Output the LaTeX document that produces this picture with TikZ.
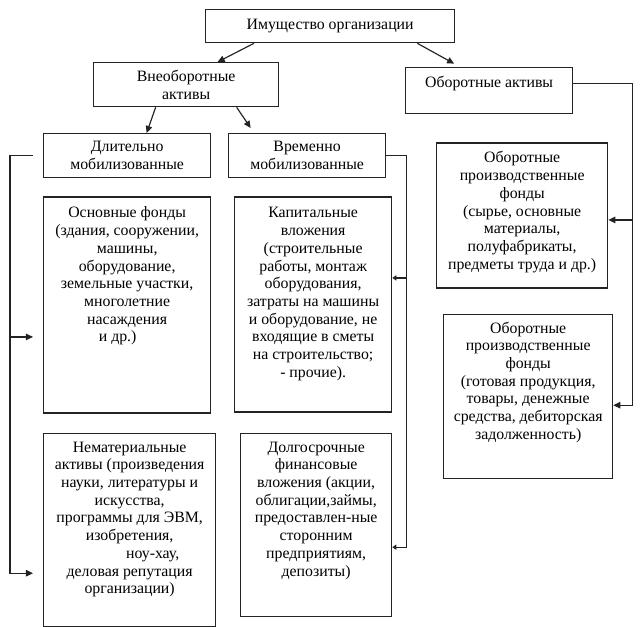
\documentclass[tikz,border=0pt]{standalone}
\usepackage{fontspec}
\setmainfont{Liberation Serif}
\usetikzlibrary{arrows.meta, positioning}
\definecolor{schemeLine}{RGB}{35,35,35}
% width, total height, first baseline, text
\newcommand{\cellbox}[4]{\parbox[t][#2][t]{#1}{\centering\rule{0pt}{#3}#4}}

\begin{document}
\begin{tikzpicture}[
    x=0.3mm, y=-0.3mm,
    box/.style={draw=schemeLine, line width=1.1pt, inner sep=0.9mm, align=center, font=\fontsize{13.5}{15.1}\selectfont, anchor=north west},
    arrow/.style={-{Triangle[length=6pt, width=5.5pt]}, line width=1pt, draw=schemeLine},
    tick/.style={-{Triangle[length=3.5pt, width=4.5pt]}, line width=1pt, draw=schemeLine}
]
    \useasboundingbox (0,0) rectangle (642,627);

    \node[box, minimum width=74.7mm, minimum height=9.9mm] (imush) at (205,9) {Имущество организации};
    \node[box, minimum width=55.5mm, minimum height=13.2mm] (vneob) at (93,62) {Внеоборотные\\активы};
    \node[box] (obor) at (405,67) {\cellbox{48.3mm}{12mm}{5.1mm}{Оборотные активы}};
    \node[box, minimum width=50.1mm, minimum height=13.2mm] (dlit) at (43,133) {Длительно\\мобилизованные};
    \node[box, minimum width=47.1mm, minimum height=13.2mm] (vrem) at (228,133) {Временно\\мобилизованные};

    \node[box, below=5.4mm of dlit.south west, anchor=north west] (osn)
        {\cellbox{48.3mm}{63mm}{5.4mm}{Основные фонды\\(здания, сооружении,\\машины,\\оборудование,\\земельные участки,\\многолетние\\насаждения\\и др.)\hspace*{5.7mm}}};
    \node[box, below=5.4mm of vrem.south west, anchor=north west, xshift=1.8mm] (kap)
        {\cellbox{45.3mm}{62.7mm}{5.4mm}{Капитальные\\вложения\\(строительные\\работы, монтаж\\оборудования,\\затраты на машины\\и оборудование, не\\входящие в сметы\\на строительство;\\- прочие).}};
    \node[box, below=5.7mm of osn.south west, anchor=north west] (nemat)
        {\cellbox{49.8mm}{56.1mm}{4.8mm}{Нематериальные\\активы (произведения\\науки, литературы и\\искусства,\\программы для ЭВМ,\\изобретения,\\\hspace*{13.8mm}ноу-хау,\\деловая репутация\\организации)}};
    \node[box, below=6mm of kap.south west, anchor=north west, xshift=1.8mm] (dolg)
        {\cellbox{43.5mm}{53.1mm}{4.8mm}{Долгосрочные\\финансовые\\вложения (акции,\\облигации,займы,\\предоставлен-ные\\сторонним\\предприятиям,\\депозиты)}};
    \node[box, below=8.4mm of obor.south west, anchor=north west, xshift=9.3mm] (obpf1)
        {\cellbox{49.5mm}{41.7mm}{5.1mm}{Оборотные\\производственные\\фонды\\(сырье, основные\\материалы,\\полуфабрикаты,\\предметы труда и др.)}};
    \node[box, below=7.5mm of obpf1.south west, anchor=north west, xshift=2.1mm] (obpf2)
        {\cellbox{48.9mm}{47.4mm}{4.8mm}{Оборотные\\производственные\\фонды\\(готовая продукция,\\товары, денежные\\средства, дебиторская\\задолженность)}};

    \draw[arrow] ([xshift=14.7mm]imush.south west) -- ([xshift=9.45mm]vneob.north);
    \draw[arrow] ([xshift=-11.4mm]imush.south east) -- ([xshift=-10.5mm, yshift=1mm]obor.north);
    \draw[arrow] ([xshift=-9.15mm]vneob.south) -- ([xshift=5.85mm]dlit.north);
    \draw[arrow] ([xshift=15.15mm]vneob.south) -- ([xshift=-16.95mm, yshift=1.5mm]vrem.north);

    % left branch
    \draw[arrow] ([xshift=-3mm]dlit.west) -- ++(-23,0) |- ([xshift=-3mm, yshift=-13.05mm]nemat.west);
    \draw[arrow] ([xshift=-9.9mm]dlit.west) |- ([xshift=-3mm, yshift=-9.6mm]osn.west);

    % right branch
    \draw[tick] (vrem.east) -- ++(20,0) |- ([yshift=-6.75mm]dolg.east);
    \draw[tick] ([xshift=6mm]vrem.east) |- ([yshift=7.95mm]kap.east);

    \draw[arrow] ([yshift=2.1mm]obor.east) -- ++(59,0) |- ([yshift=-2.7mm]obpf2.east);
    \draw[arrow] ([xshift=17.7mm, yshift=2.1mm]obor.east) |- ([yshift=-1.35mm]obpf1.east);
\end{tikzpicture}
\end{document}
